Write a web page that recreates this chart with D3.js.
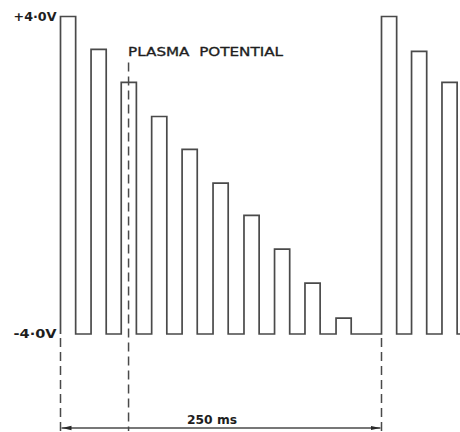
<!DOCTYPE html>
<html>
<head>
<meta charset="utf-8">
<script src="https://cdn.jsdelivr.net/npm/d3@7"></script>
<style>
  html, body { margin: 0; padding: 0; background: #fff; }
  svg { display: block; }
</style>
</head>
<body>
<script>
// ---- data ----
// pulse start times (ms) and plateau levels (V)
const pulseStart = [0, 23.8, 47.3, 71.0, 94.7, 118.8, 142.9, 166.7, 190.4, 214.6, 250, 273.4, 297.1];
const pulseLevel = [4.0, 3.17, 2.34, 1.48, 0.65, -0.20, -1.01, -1.86, -2.72, -3.60, 4.0, 3.12, 2.34];
const pulseWidth = 11.8;            // ms
const baseLevel = -4.0;             // V
const endTime = 312;                // ms (trace continues off the picture)
const yTickValues = [4, -4];
const yTickLabels = ["+4·0V", "-4·0V"];
const plasmaTime = 53;              // ms, plasma potential marker
const plasmaTop = 2.84;             // V, where its dashed line starts
const periodLabel = "250 ms";
const periodSpan = [0, 250];        // ms
const plasmaLabel = "PLASMA\u00a0\u00a0POTENTIAL";

// ---- layout ----
const W = 460, H = 432;
const x = d3.scaleLinear().domain([0, 250]).range([60.5, 381.5]);
const y = d3.scaleLinear().domain([-4, 4]).range([334, 16.5]);
const arrowY = 428;
const ink = "#4a4a4a";
const textInk = "#1e1e1e";

const svg = d3.select("body").append("svg")
  .attr("width", W).attr("height", H)
  .attr("viewBox", `0 0 ${W} ${H}`);

const defs = svg.append("defs");
defs.append("marker")
  .attr("id", "arrEnd").attr("viewBox", "0 0 10 6")
  .attr("refX", 10).attr("refY", 3)
  .attr("markerWidth", 10).attr("markerHeight", 6)
  .attr("markerUnits", "userSpaceOnUse")
  .attr("orient", "auto")
  .append("path").attr("d", "M0,0.8 L10,3 L0,5.2 Z").attr("fill", "#2a2a2a");
defs.append("marker")
  .attr("id", "arrStart").attr("viewBox", "0 0 10 6")
  .attr("refX", 0).attr("refY", 3)
  .attr("markerWidth", 10).attr("markerHeight", 6)
  .attr("markerUnits", "userSpaceOnUse")
  .attr("orient", "auto")
  .append("path").attr("d", "M10,0.8 L0,3 L10,5.2 Z").attr("fill", "#2a2a2a");

// ---- waveform (step trace) ----
const pts = [];
pulseStart.forEach((t, i) => {
  pts.push([t, baseLevel]);
  pts.push([t, pulseLevel[i]]);
  pts.push([t + pulseWidth, pulseLevel[i]]);
  pts.push([t + pulseWidth, baseLevel]);
});
pts.push([endTime, baseLevel]);

const line = d3.line().x(d => x(d[0])).y(d => y(d[1]));
svg.append("path")
  .datum(pts)
  .attr("d", line)
  .attr("fill", "none")
  .attr("stroke", ink)
  .attr("stroke-width", 1.7)
  .attr("stroke-linejoin", "miter");

// ---- y axis labels ----
const yAxis = d3.axisLeft(y)
  .tickValues(yTickValues)
  .tickFormat((d, i) => yTickLabels[i])
  .tickSize(0)
  .tickPadding(4);
const gy = svg.append("g").attr("transform", `translate(${x(0)},0)`).call(yAxis);
gy.select(".domain").remove();
gy.selectAll("text")
  .attr("font-family", "DejaVu Sans, sans-serif")
  .attr("font-size", 12)
  .attr("font-weight", "bold")
  .attr("textLength", 43)
  .attr("lengthAdjust", "spacingAndGlyphs")
  .attr("fill", textInk);

// ---- dashed guide lines ----
const dash = "9,5";
[periodSpan[0], periodSpan[1]].forEach(t => {
  svg.append("line")
    .attr("x1", x(t)).attr("x2", x(t))
    .attr("y1", y(baseLevel) + 4).attr("y2", arrowY + 3)
    .attr("stroke", ink).attr("stroke-width", 1.5)
    .attr("stroke-dasharray", dash);
});
svg.append("line")
  .attr("x1", x(plasmaTime)).attr("x2", x(plasmaTime))
  .attr("y1", y(plasmaTop)).attr("y2", arrowY + 3)
  .attr("stroke", ink).attr("stroke-width", 1.5)
  .attr("stroke-dasharray", dash);

// ---- period arrow ----
svg.append("line")
  .attr("x1", x(periodSpan[0]) + 1).attr("x2", x(periodSpan[1]) - 1)
  .attr("y1", arrowY).attr("y2", arrowY)
  .attr("stroke", ink).attr("stroke-width", 1.4)
  .attr("marker-start", "url(#arrStart)")
  .attr("marker-end", "url(#arrEnd)");

svg.append("text")
  .attr("x", 212).attr("y", 424)
  .attr("text-anchor", "middle")
  .attr("font-family", "DejaVu Sans, sans-serif")
  .attr("font-size", 12)
  .attr("font-weight", "bold")
  .attr("textLength", 50)
  .attr("lengthAdjust", "spacingAndGlyphs")
  .attr("fill", textInk)
  .text(periodLabel);

// ---- plasma potential label ----
svg.append("text")
  .attr("x", x(plasmaTime) - 0.5).attr("y", 56)
  .attr("font-family", "DejaVu Sans, sans-serif")
  .attr("font-size", 13)
  .attr("textLength", 155)
  .attr("lengthAdjust", "spacingAndGlyphs")
  .attr("fill", textInk)
  .attr("stroke", textInk)
  .attr("stroke-width", 0.35)
  .text(plasmaLabel);
</script>
</body>
</html>
